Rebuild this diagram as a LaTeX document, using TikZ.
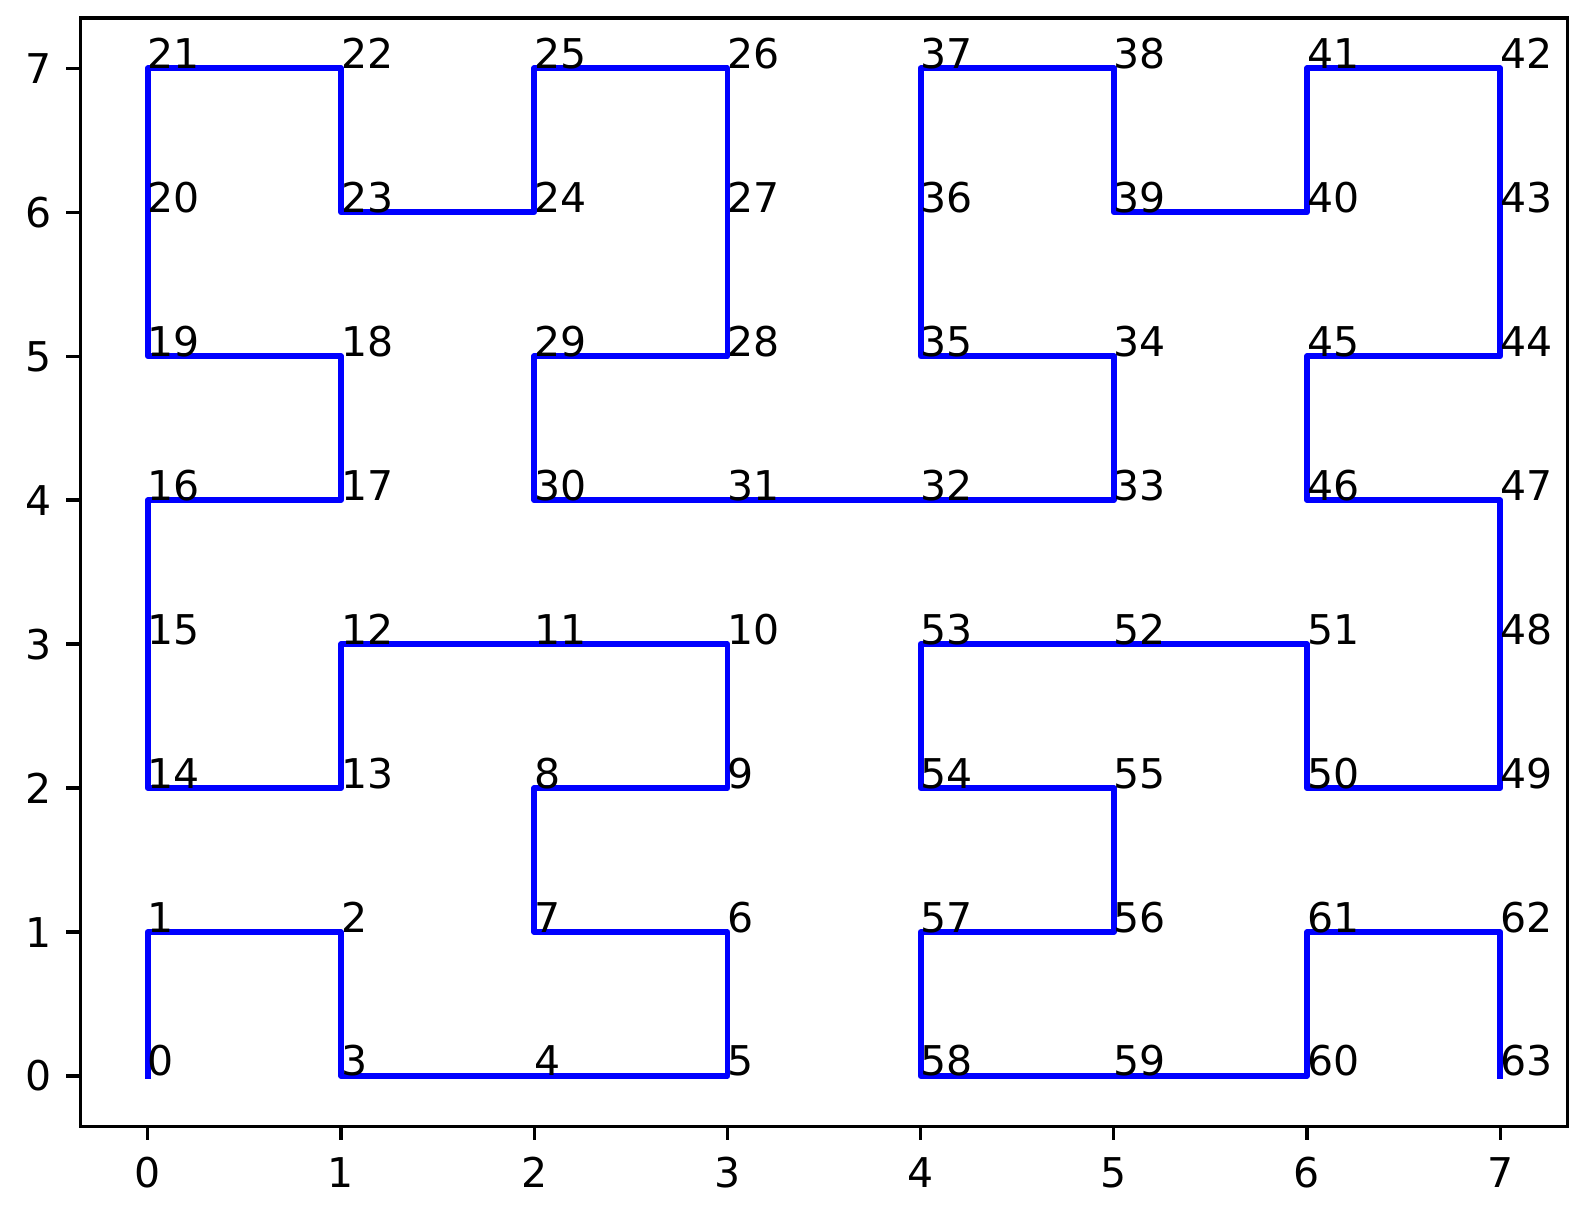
\documentclass[tikz,border=0pt]{standalone}
\usepackage{fontspec}
\setmainfont{DejaVu Sans}
\begin{document}
\begin{tikzpicture}[
  curve/.style={draw={rgb,1:red,0;green,0;blue,1}, line width=5.8pt, line cap=rect, line join=round},
  lbl/.style={anchor=base west, inner sep=0pt, outer sep=0pt, font=\fontsize{41}{49}\selectfont},
  ticklbl/.style={inner sep=0pt, outer sep=0pt, font=\fontsize{41}{49}\selectfont},
  frame/.style={draw=black, line width=3.3pt},
  tck/.style={draw=black, line width=3.3pt}
]
\useasboundingbox (0,0) rectangle (1581pt,1220pt);
\fill[white] (0,0) rectangle (1581pt,1220pt);
\begin{scope}[shift={(147.8pt,144pt)}, x=193.2pt, y=143.96pt]
  \foreach \i/\px/\py in {0/0/0,1/0/1,2/1/1,3/1/0,4/2/0,5/3/0,6/3/1,7/2/1,8/2/2,9/3/2,10/3/3,11/2/3,12/1/3,13/1/2,14/0/2,15/0/3,16/0/4,17/1/4,18/1/5,19/0/5,20/0/6,21/0/7,22/1/7,23/1/6,24/2/6,25/2/7,26/3/7,27/3/6,28/3/5,29/2/5,30/2/4,31/3/4,32/4/4,33/5/4,34/5/5,35/4/5,36/4/6,37/4/7,38/5/7,39/5/6,40/6/6,41/6/7,42/7/7,43/7/6,44/7/5,45/6/5,46/6/4,47/7/4,48/7/3,49/7/2,50/6/2,51/6/3,52/5/3,53/4/3,54/4/2,55/5/2,56/5/1,57/4/1,58/4/0,59/5/0,60/6/0,61/6/1,62/7/1,63/7/0}
    {\coordinate (p\i) at (\px,\py);}
  \draw[curve] (p0) \foreach \i in {1,...,63} {-- (p\i)};
  \foreach \i in {0,...,63} {\node[lbl] (l\i) at (p\i) {\i};}
  % axes frame
  \draw[frame] (-0.35,-0.35) rectangle (7.35,7.35);
  % ticks
  \foreach \t in {0,...,7} {
    \draw[tck] (\t,-0.35) -- ++(0,-14pt);
    \node[ticklbl, anchor=base] (xt\t) at ([yshift=-112pt]\t,0) {\t};
    \draw[tck] (-0.35,\t) -- ++(-14pt,0);
    \node[ticklbl, anchor=base east] (yt\t) at ([xshift=-95.8pt,yshift=-15pt]0,\t) {\t};
  }
\end{scope}
\end{tikzpicture}
\end{document}
